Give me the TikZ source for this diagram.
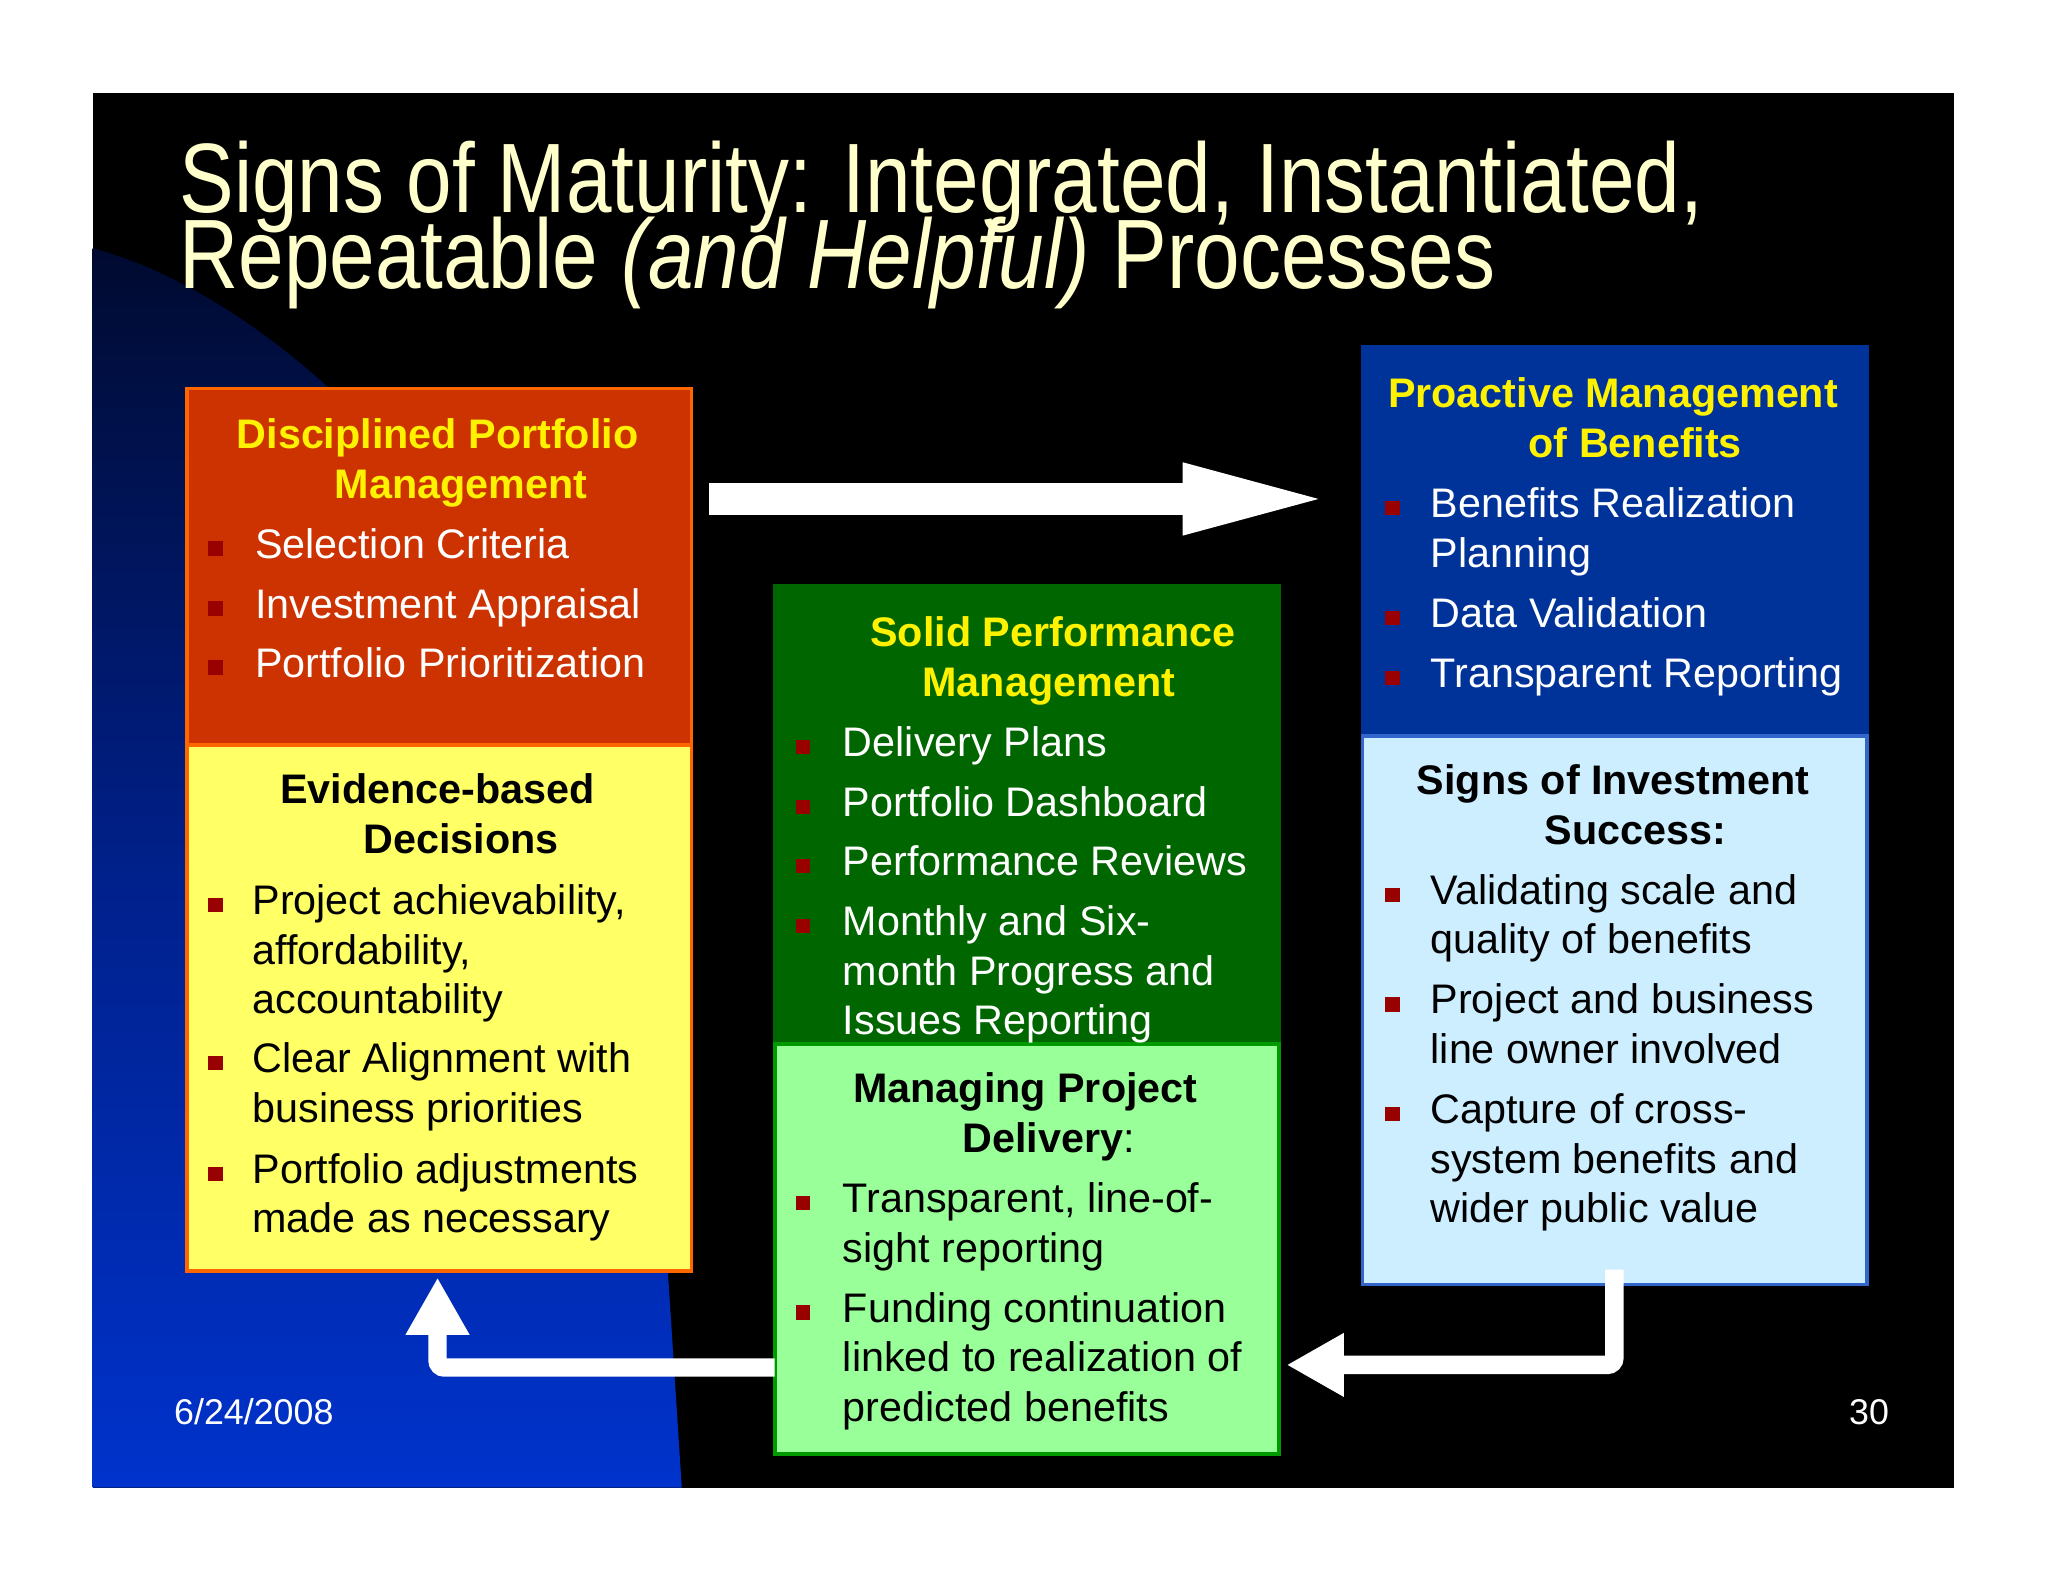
\documentclass[tikz,border=0pt]{standalone}
\usepackage{fontspec}
\setmainfont{Liberation Sans}
\usetikzlibrary{arrows.meta}
\definecolor{cream}{HTML}{FFFFCC}
\definecolor{bul}{HTML}{990000}
\definecolor{rbox}{HTML}{CC3300}
\definecolor{obrd}{HTML}{FF6600}
\definecolor{ybox}{HTML}{FFFF66}
\definecolor{gbox}{HTML}{006600}
\definecolor{lgbox}{HTML}{99FF99}
\definecolor{bbox}{HTML}{003399}
\definecolor{lbbox}{HTML}{CCEEFF}
\definecolor{shtop}{HTML}{000A30}
\definecolor{shmid}{HTML}{00208A}
\definecolor{shbot}{HTML}{0033CC}
\begin{document}
\begin{tikzpicture}[x=0.02cm,y=-0.02cm,
  box/.style={draw,line width=1.5pt,inner sep=0,minimum width=7.72cm},
  txt/.style={anchor=west,inner sep=0,yshift=-0.08cm,text height=0.72em,text depth=0pt,font=\fontsize{18}{20}\selectfont},
  ttl/.style={anchor=center,inner sep=0,yshift=-0.08cm,text height=0.72em,text depth=0pt,font=\fontsize{18}{20}\selectfont\bfseries},
  bigarrow/.style={white,line width=13.6pt,-{Triangle[length=68pt,width=27pt]}},
  smallarrow/.style={white,line width=8pt,rounded corners=3pt,-{Triangle[length=25pt,width=26pt]}}]
\newcommand\bsq[3]{\fill[bul] (#2-5.5,#3-5.5) rectangle (#2+5.5,#3+5.5);}
\useasboundingbox (0,0) rectangle (1568,1211);
\fill[white] (0,0) rectangle (1568,1211);
\fill[black] (71,71) rectangle (1496,1139);
\shade[top color=shtop,bottom color=shbot,middle color=shmid]
  (71,190) .. controls (220,230) and (420,420) .. (495,720) -- (522,1139) -- (71,1139) -- cycle;
% title
\node[anchor=base west,inner sep=0,text=cream] (t1) at (137,163) {\fontsize{43}{44}\selectfont\scalebox{0.83}[1]{Signs of Maturity: Integrated, Instantiated,}};
\node[anchor=base west,inner sep=0,text=cream] (t2) at (137,221) {\fontsize{43}{44}\selectfont\scalebox{0.83}[1]{Repeatable \textit{(and Helpful)} Processes}};
% boxes
\node[box,fill=rbox,draw=obrd,minimum height=5.46cm,anchor=north west] (red) at (142,296) {};
\node[box,fill=ybox,draw=obrd,minimum height=8.06cm,anchor=north west] (yel) at (142,569) {};
\node[box,fill=gbox,draw=gbox,minimum height=7.02cm,anchor=north west] (grn) at (592,447) {};
\node[box,fill=lgbox,draw={rgb,255:red,0;green,153;blue,0},minimum height=6.28cm,anchor=north west] (lgr) at (592,798) {};
\node[box,fill=bbox,draw=bbox,minimum height=5.96cm,anchor=north west] (blu) at (1042,264) {};
\node[box,fill=lbbox,draw={rgb,255:red,51;green,102;blue,204},minimum height=8.4cm,anchor=north west] (lbl) at (1042,562) {};
% red box
\node[ttl,text=yellow] (r1) at (335,333) {Disciplined Portfolio};
\node[ttl,text=yellow] (r2) at (353,371) {Management};
\bsq{}{165}{420}\node[txt,text=white] (r3) at (195,417) {Selection Criteria};
\bsq{}{165}{466}\node[txt,text=white] (r4) at (195,463) {Investment Appraisal};
\bsq{}{165}{511}\node[txt,text=white] (r5) at (195,508) {Portfolio Prioritization};
% yellow box
\node[ttl] (y1) at (335,605) {Evidence-based};
\node[ttl] (y2) at (353,643) {Decisions};
\bsq{}{165}{693}\node[txt] (y3) at (193,690) {Project achievability,};
\node[txt] (y4) at (193,728) {affordability,};
\node[txt] (y5) at (193,766) {accountability};
\bsq{}{165}{814}\node[txt] (y6) at (193,811) {Clear Alignment with};
\node[txt] (y7) at (193,849) {business priorities};
\bsq{}{165}{899}\node[txt] (y8) at (193,896) {Portfolio adjustments};
\node[txt] (y9) at (193,933) {made as necessary};
% green
\node[ttl,text=yellow] (g1) at (806,485) {Solid Performance};
\node[ttl,text=yellow] (g2) at (803,523) {Management};
\bsq{}{615}{572}\node[txt,text=white] (g3) at (645,569) {Delivery Plans};
\bsq{}{615}{618}\node[txt,text=white] (g4) at (645,615) {Portfolio Dashboard};
\bsq{}{615}{663}\node[txt,text=white] (g5) at (645,660) {Performance Reviews};
\bsq{}{615}{709}\node[txt,text=white] (g6) at (645,706) {Monthly and Six-};
\node[txt,text=white] (g7) at (645,744) {month Progress and};
\node[txt,text=white] (g8) at (645,782) {Issues Reporting};
% light green
\node[ttl] (l1) at (785,834) {Managing Project};
\node[ttl] (l2) at (803,872) {Delivery\mdseries:};
\bsq{}{615}{921}\node[txt] (l3) at (645,918) {Transparent, line-of-};
\node[txt] (l4) at (645,956) {sight reporting};
\bsq{}{615}{1005}\node[txt] (l5) at (645,1002) {Funding continuation};
\node[txt] (l6) at (645,1040) {linked to realization of};
\node[txt] (l7) at (645,1078) {predicted benefits};
% blue
\node[ttl,text=yellow] (b1) at (1235,302) {Proactive Management};
\node[ttl,text=yellow] (b2) at (1252,340) {of Benefits};
\bsq{}{1066}{389}\node[txt,text=white] (b3) at (1095,386) {Benefits Realization};
\node[txt,text=white] (b4) at (1095,424) {Planning};
\bsq{}{1066}{473}\node[txt,text=white] (b5) at (1095,470) {Data Validation};
\bsq{}{1066}{519}\node[txt,text=white] (b6) at (1095,516) {Transparent Reporting};
% light blue
\node[ttl] (s1) at (1235,598) {Signs of Investment};
\node[ttl] (s2) at (1252,636) {Success:};
\bsq{}{1066}{685}\node[txt] (s3) at (1095,682) {Validating scale and};
\node[txt] (s4) at (1095,720) {quality of benefits};
\bsq{}{1066}{769}\node[txt] (s5) at (1095,766) {Project and business};
\node[txt] (s6) at (1095,804) {line owner involved};
\bsq{}{1066}{853}\node[txt] (s7) at (1095,850) {Capture of cross-};
\node[txt] (s8) at (1095,888) {system benefits and};
\node[txt] (s9) at (1095,926) {wider public value};
% footer
\node[anchor=west,inner sep=0,text=white,font=\fontsize{15.6}{17}\selectfont] (d) at (133,1081) {6/24/2008};
\node[anchor=center,inner sep=0,text=white,font=\fontsize{15.6}{17}\selectfont] (p) at (1431,1081) {30};
% arrows
\coordinate (a1) at (543,382);
\coordinate (a2) at (1025,382);
\draw[bigarrow] (a1) -- (a2);
\coordinate (c1) at (1236,972);
\coordinate (c2) at (985,1045);
\draw[smallarrow] (c1) |- (c2);
\coordinate (e1) at (593,1047);
\coordinate (e2) at (335,978);
\draw[smallarrow] (e1) -| (e2);
\end{tikzpicture}
\end{document}
